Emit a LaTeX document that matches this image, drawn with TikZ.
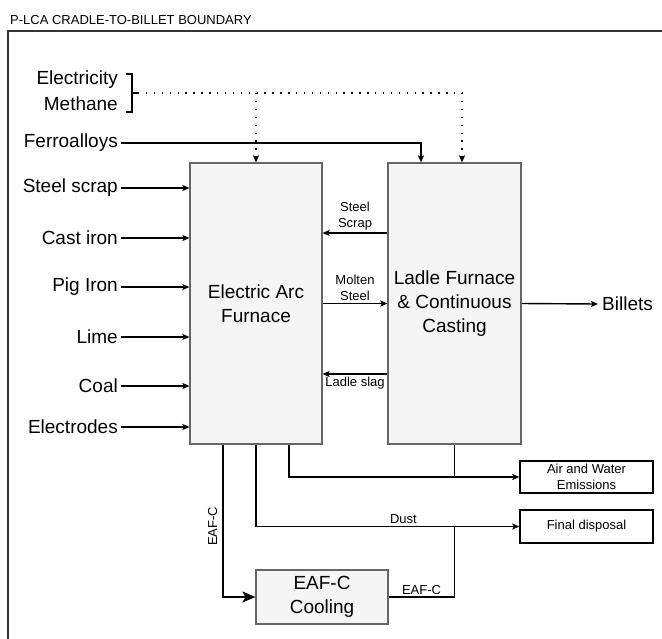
\documentclass[tikz,border=0pt]{standalone}
\usepackage{fontspec}
\setmainfont{Liberation Sans}
\usetikzlibrary{arrows.meta}
\definecolor{boxfill}{HTML}{F5F5F5}
\definecolor{boxline}{HTML}{666666}
\definecolor{bound}{HTML}{333333}
\begin{document}
\begin{tikzpicture}[x=1pt,y=-1pt,
  bigfont/.style={font=\fontsize{19}{24}\selectfont},
  smallfont/.style={font=\fontsize{13}{16}\selectfont},
  proc/.style={draw=boxline,fill=boxfill,line width=1.2pt,inner sep=0pt,align=center,bigfont},
  outbox/.style={draw=black,fill=white,line width=1.4pt,inner sep=0pt,align=center,smallfont},
  intext/.style={anchor=east,inner sep=3pt,bigfont},
  flow/.style={line width=1.4pt,-{Stealth[length=7pt,width=6pt,inset=1.5pt]}},
  plain/.style={line width=1.4pt},
  dotflow/.style={line width=1.4pt,dash pattern=on 1.4pt off 6.5pt,-{Stealth[length=7pt,width=6pt,inset=1.5pt]}},
  dotline/.style={line width=1.4pt,dash pattern=on 1.4pt off 6.5pt},
  bigflow/.style={line width=1.4pt,-{Stealth[length=13pt,width=11pt,inset=3pt]}},
  lab/.style={smallfont,align=center,inner sep=2pt}]
\useasboundingbox (0,0) rectangle (662,638);

% boundary
\node[anchor=west,inner sep=0pt,font=\fontsize{13}{15}\selectfont] (title) at (10,20) {P-LCA CRADLE-TO-BILLET BOUNDARY};
\draw[bound,line width=1.6pt] (8,645) -- (8,31) -- (670,31);

% process boxes
\node[proc,minimum width=132pt,minimum height=281pt] (eaf) at (256,303.5) {Electric Arc\\Furnace};
\node[proc,minimum width=133pt,minimum height=281pt] (lf) at (454.5,303.5) {Ladle Furnace\\\& Continuous\\Casting};
\node[proc,minimum width=132pt,minimum height=54pt] (cool) at (322,597) {EAF-C\\Cooling};
\node[outbox,minimum width=133pt,minimum height=32pt] (em) at (586.5,477) {Air and Water\\Emissions};
\node[outbox,minimum width=133pt,minimum height=33pt] (fd) at (586.5,526.5) {Final disposal};

% utilities
\node[intext] (el) at (121,80) {Electricity};
\node[intext] (me) at (121,104) {Methane};
\coordinate (bt) at (126,74);
\coordinate (bb) at (126,112);
\coordinate (br) at (132,93);
\draw[plain] (bt) -- (132,74) -- (132,112) -- (bb);
\draw[plain] (br) -- ++(6,0) coordinate (bd);
\coordinate (dj) at ([xshift=7.5pt]lf.north |- br);
\draw[dotline] (bd) -- (dj);
\draw[dotflow] (dj) -- ([xshift=7.5pt]lf.north);
\draw[dotflow] (eaf.north |- br) -- (eaf.north);

% ferroalloys
\node[intext] (fa) at (121,143) {Ferroalloys};
\draw[flow] (fa.east) -| ([xshift=-33.5pt]lf.north);

% raw inputs
\node[intext] (ss) at (121,188) {Steel scrap};
\node[intext] (ci) at (121,238) {Cast iron};
\node[intext] (pi) at (121,287) {Pig Iron};
\node[intext] (li) at (121,337) {Lime};
\node[intext] (co) at (121,386) {Coal};
\node[intext] (ed) at (121,427) {Electrodes};
\foreach \n in {ss,ci,pi,li,co,ed}
  \draw[flow] (\n.east) -- (\n.east -| eaf.west);

% between boxes
\draw[flow] ([yshift=70.5pt]lf.west) -- node[lab,above] {Steel\\Scrap} ([yshift=70.5pt]eaf.east);
\draw[flow] (eaf.east) -- node[lab,above] {Molten\\Steel} (lf.west);
\draw[flow] ([yshift=-70.5pt]lf.west) -- node[lab,below] {Ladle slag} ([yshift=-70.5pt]eaf.east);

% billets
\node[anchor=west,inner sep=4pt,bigfont] (bil) at (598,304) {Billets};
\draw[flow] (lf.east) -- (bil.west);

% outputs
\draw[flow] ([xshift=33pt]eaf.south) |- (em.west);
\draw[plain] (lf.south) -- (lf.south |- em.west);
\draw[flow] (eaf.south) |- node[lab,pos=0.78,above] {Dust} (fd.west);
\draw[bigflow] ([xshift=-33pt]eaf.south) |- node[lab,pos=0.268,rotate=90,anchor=south,inner sep=5pt] {EAF-C} (cool.west);
\draw[plain] (cool.east) -| node[lab,pos=0.25,above] {EAF-C} (lf.south |- fd.west);
\end{tikzpicture}
\end{document}
